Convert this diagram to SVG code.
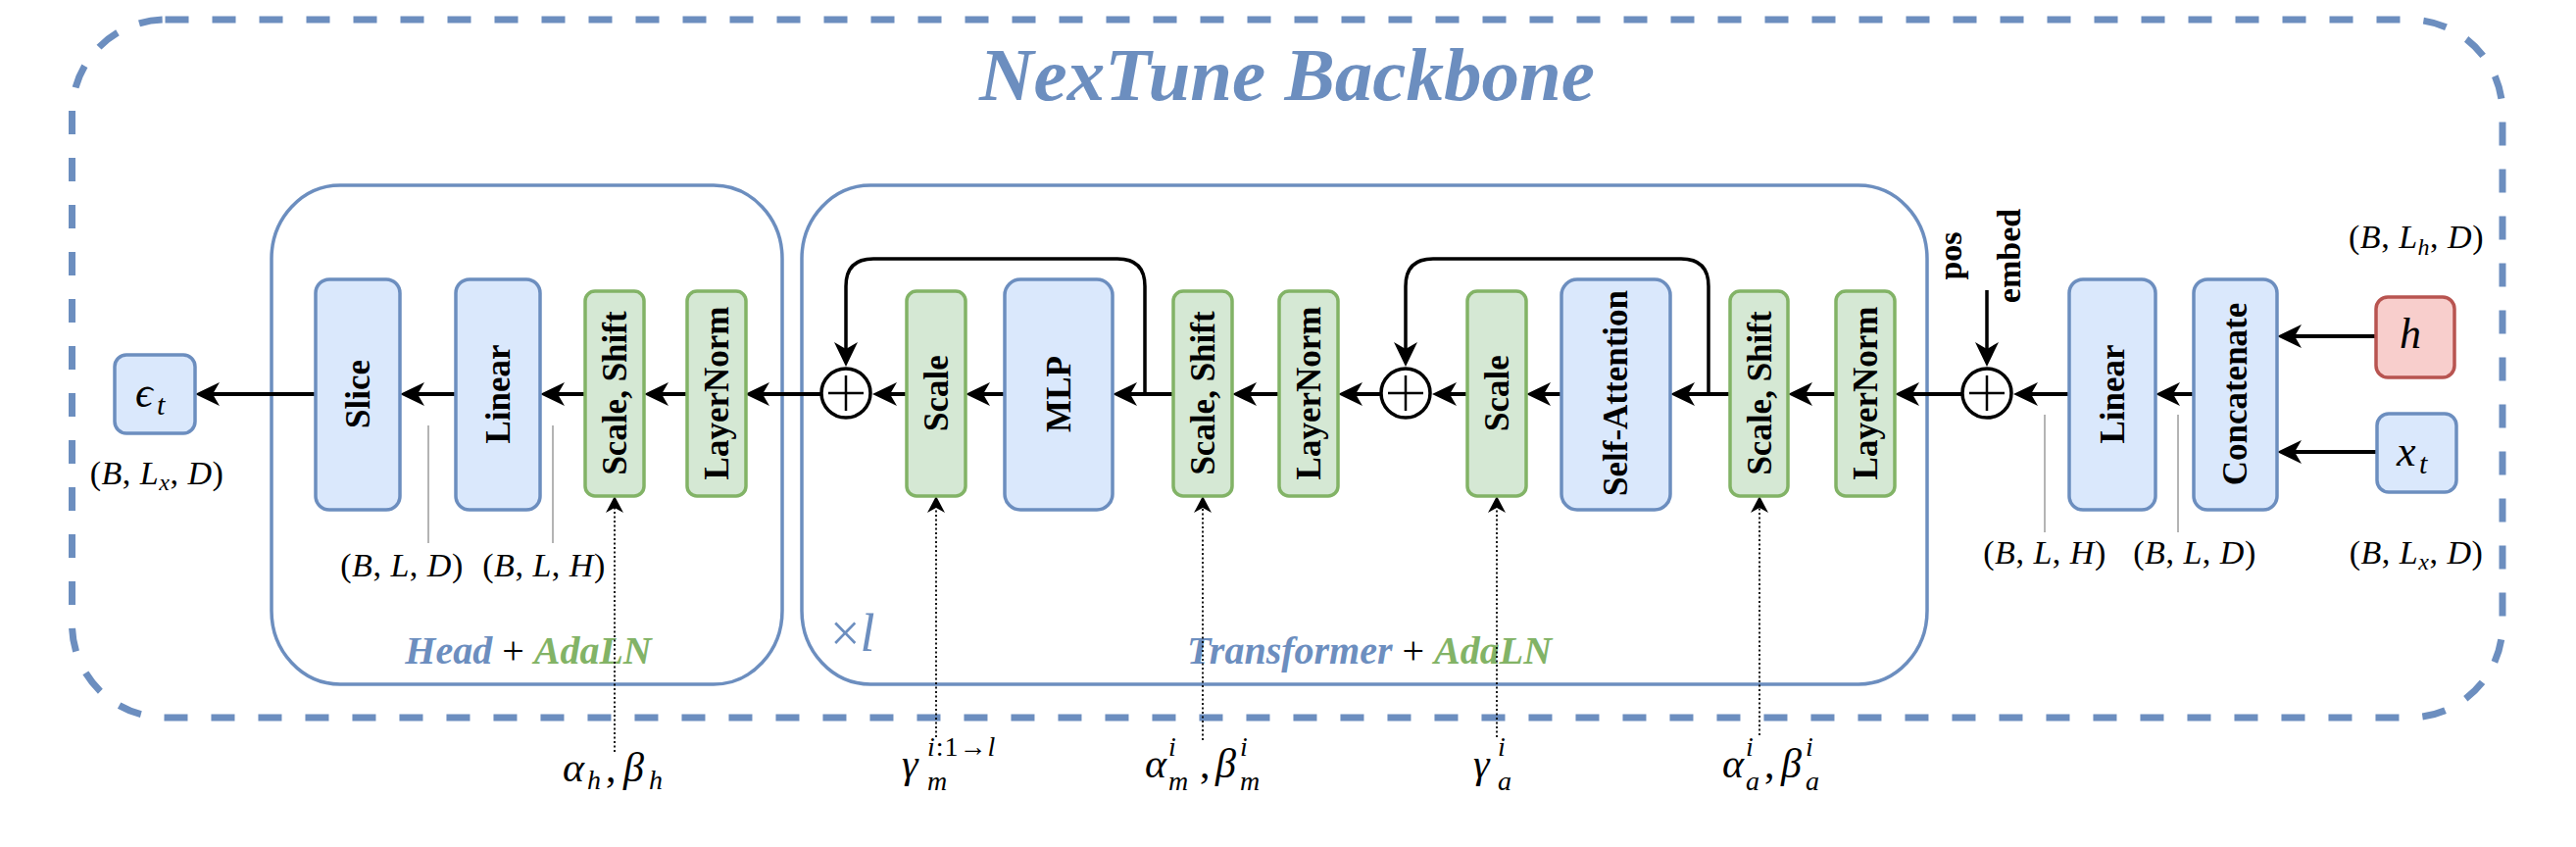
<svg xmlns="http://www.w3.org/2000/svg" width="2628" height="864" viewBox="0 0 2628 864">
<defs>
<style>
.bb{fill:#dae8fc;stroke:#6c8ebf;stroke-width:3.5}
.gb{fill:#d5e8d4;stroke:#82b366;stroke-width:3.5}
.rb{fill:#f8cecc;stroke:#b85450;stroke-width:3.5}
.cont{fill:none;stroke:#6c8ebf;stroke-width:3.5}
.lbl{font-family:"Liberation Serif","Times New Roman",serif;font-weight:bold;font-size:35px;fill:#000;text-anchor:middle;dominant-baseline:central}
.m{font-family:"Liberation Serif","DejaVu Serif",serif;font-style:italic;fill:#000}
.dim{font-size:34px;text-anchor:middle;letter-spacing:0.5px}
.up{font-style:normal}
.ss{font-size:28px}
.ar{fill:none;stroke:#000;stroke-width:4;marker-end:url(#ah)}
.lp{fill:none;stroke:#000;stroke-width:3.5;marker-end:url(#ah)}
.dt{fill:none;stroke:#000;stroke-width:1.8;stroke-dasharray:2 2.5;marker-end:url(#ahs)}
.ld{stroke:#8c8c8c;stroke-width:1.3}
.circ{fill:#fff;stroke:#000;stroke-width:3.5}
.plus{stroke:#000;stroke-width:2.5}
.ttl{font-family:"Liberation Serif","Times New Roman",serif;font-weight:bold;font-style:italic}
</style>
<marker id="ah" markerUnits="userSpaceOnUse" markerWidth="30" markerHeight="30" viewBox="0 -15 30 30" refX="7" refY="0" orient="auto">
<path d="M25,0 L0,-12 L7,0 L0,12 Z" fill="#000"/>
</marker>
<marker id="ahs" markerUnits="userSpaceOnUse" markerWidth="20" markerHeight="20" viewBox="0 -10 20 20" refX="5" refY="0" orient="auto">
<path d="M17,0 L0,-9 L5,0 L0,9 Z" fill="#000"/>
</marker>
</defs>
<rect width="2628" height="864" fill="#fff"/>

<g id="backbone">
<rect x="73.5" y="20" width="2479.5" height="712" rx="95" ry="95" fill="none" stroke="#6c8ebf" stroke-width="7" stroke-dasharray="24 24"/>
<text class="ttl" x="1313" y="102" font-size="77" fill="#6c8ebf" text-anchor="middle">NexTune Backbone</text>
</g>

<g id="head">
<rect class="cont" x="277" y="189" width="521" height="509" rx="70" ry="75"/>
<text class="ttl" x="539" y="677" font-size="40" text-anchor="middle"><tspan fill="#6c8ebf">Head</tspan><tspan fill="#000" font-style="normal" font-weight="normal"> + </tspan><tspan fill="#82b366">AdaLN</tspan></text>
</g>

<g id="transformer">
<rect class="cont" x="818" y="189" width="1148" height="509" rx="70" ry="75"/>
<text class="ttl" x="1397" y="677" font-size="40" text-anchor="middle"><tspan fill="#6c8ebf">Transformer</tspan><tspan fill="#000" font-style="normal" font-weight="normal"> + </tspan><tspan fill="#82b366">AdaLN</tspan></text>
<text x="847" y="664" font-family="Liberation Serif, serif" font-size="54" fill="#6c8ebf">×<tspan font-style="italic">l</tspan></text>
</g>

<g id="connectors">
<path class="ar" d="M2238,402 H2217"/>
<path class="ar" d="M2111,402 H2072"/>
<path class="ar" d="M2003,402 H1951"/>
<path class="ar" d="M1873,402 H1842"/>
<path class="ar" d="M1765,402 H1722"/>
<path class="ar" d="M1593,402 H1575"/>
<path class="ar" d="M1497,402 H1479"/>
<path class="ar" d="M1410,402 H1383"/>
<path class="ar" d="M1305,402 H1275"/>
<path class="ar" d="M1197,402 H1153"/>
<path class="ar" d="M1025,402 H1003"/>
<path class="ar" d="M925,402 H908"/>
<path class="ar" d="M839,402 H778"/>
<path class="ar" d="M701,402 H675"/>
<path class="ar" d="M597,402 H569"/>
<path class="ar" d="M465,402 H426"/>
<path class="ar" d="M322,402 H217"/>
<path class="ar" d="M2424,343 H2341"/>
<path class="ar" d="M2425,461 H2341"/>
<path class="lp" d="M1168,402 V292 Q1168,264 1140,264 H891 Q863,264 863,292 V356"/>
<path class="lp" d="M1743,402 V292 Q1743,264 1715,264 H1462 Q1434,264 1434,292 V356"/>
<path class="lp" d="M2027,296 V356"/>
<path class="dt" d="M627,767 V518"/>
<path class="dt" d="M955,752 V518"/>
<path class="dt" d="M1227,755 V518"/>
<path class="dt" d="M1527,752 V518"/>
<path class="dt" d="M1795,750 V518"/>
<line class="ld" x1="437" y1="434" x2="437" y2="554"/>
<line class="ld" x1="564" y1="434" x2="564" y2="554"/>
<line class="ld" x1="2086" y1="423" x2="2086" y2="543"/>
<line class="ld" x1="2222" y1="423" x2="2222" y2="543"/>
</g>

<g id="eps">
<rect class="bb" x="117" y="362" width="82" height="80" rx="12"/>
<text class="m"><tspan x="138" y="415" font-size="44">ϵ</tspan><tspan x="160" y="423" font-size="30">t</tspan></text>
</g>
<g id="slice"><rect class="bb" x="322" y="285" width="86" height="235" rx="14"/><text class="lbl" transform="translate(365,402) rotate(-90)">Slice</text></g>
<g id="linear-head"><rect class="bb" x="465" y="285" width="86" height="235" rx="14"/><text class="lbl" transform="translate(508,402) rotate(-90)">Linear</text></g>
<g id="scaleshift-head"><rect class="gb" x="597" y="297" width="60" height="209" rx="10"/><text class="lbl" transform="translate(627,401) rotate(-90)">Scale, Shift</text></g>
<g id="layernorm-head"><rect class="gb" x="701" y="297" width="60" height="209" rx="10"/><text class="lbl" transform="translate(731,401) rotate(-90)">LayerNorm</text></g>

<g id="add-mlp"><circle class="circ" cx="863" cy="401" r="25"/><path class="plus" d="M845,401 H881 M863,383 V419"/></g>
<g id="scale-m"><rect class="gb" x="925" y="297" width="60" height="209" rx="10"/><text class="lbl" transform="translate(955,401) rotate(-90)">Scale</text></g>
<g id="mlp"><rect class="bb" x="1025" y="285" width="110" height="235" rx="16"/><text class="lbl" transform="translate(1080,402) rotate(-90)">MLP</text></g>
<g id="scaleshift-m"><rect class="gb" x="1197" y="297" width="60" height="209" rx="10"/><text class="lbl" transform="translate(1227,401) rotate(-90)">Scale, Shift</text></g>
<g id="layernorm-m"><rect class="gb" x="1305" y="297" width="60" height="209" rx="10"/><text class="lbl" transform="translate(1335,401) rotate(-90)">LayerNorm</text></g>
<g id="add-attn"><circle class="circ" cx="1434" cy="401" r="25"/><path class="plus" d="M1416,401 H1452 M1434,383 V419"/></g>
<g id="scale-a"><rect class="gb" x="1497" y="297" width="60" height="209" rx="10"/><text class="lbl" transform="translate(1527,401) rotate(-90)">Scale</text></g>
<g id="self-attention"><rect class="bb" x="1593" y="285" width="111" height="235" rx="16"/><text class="lbl" transform="translate(1648,401) rotate(-90)">Self-Attention</text></g>
<g id="scaleshift-a"><rect class="gb" x="1765" y="297" width="59" height="209" rx="10"/><text class="lbl" transform="translate(1795,401) rotate(-90)">Scale, Shift</text></g>
<g id="layernorm-a"><rect class="gb" x="1873" y="297" width="60" height="209" rx="10"/><text class="lbl" transform="translate(1903,401) rotate(-90)">LayerNorm</text></g>

<g id="add-pos">
<circle class="circ" cx="2027" cy="401" r="25"/><path class="plus" d="M2009,401 H2045 M2027,383 V419"/>
<g transform="translate(2030,261) rotate(-90)">
<text class="lbl" style="dominant-baseline:auto;font-size:34px" x="0" y="-29">pos</text>
<text class="lbl" style="dominant-baseline:auto;font-size:34px" x="0" y="31">embed</text>
</g>
</g>
<g id="linear-embed"><rect class="bb" x="2111" y="285" width="88" height="235" rx="14"/><text class="lbl" transform="translate(2155,402) rotate(-90)">Linear</text></g>
<g id="concatenate"><rect class="bb" x="2238" y="285" width="85" height="235" rx="14"/><text class="lbl" transform="translate(2280,402) rotate(-90)">Concatenate</text></g>
<g id="h"><rect class="rb" x="2424" y="303" width="80" height="82" rx="12"/><text class="m" x="2448" y="355" font-size="44">h</text></g>
<g id="xt"><rect class="bb" x="2425" y="422" width="81" height="80" rx="12"/><text class="m"><tspan x="2445" y="475" font-size="44">x</tspan><tspan x="2468" y="483" font-size="30">t</tspan></text></g>

<g id="dims">
<text class="m dim" x="160" y="494"><tspan class="up">(</tspan>B<tspan class="up">,</tspan> L<tspan font-size="24" dy="6">x</tspan><tspan class="up" dy="-6">,</tspan> D<tspan class="up">)</tspan></text>
<text class="m dim" x="410" y="588"><tspan class="up">(</tspan>B<tspan class="up">,</tspan> L<tspan class="up">,</tspan> D<tspan class="up">)</tspan></text>
<text class="m dim" x="555" y="588"><tspan class="up">(</tspan>B<tspan class="up">,</tspan> L<tspan class="up">,</tspan> H<tspan class="up">)</tspan></text>
<text class="m dim" x="2086" y="575"><tspan class="up">(</tspan>B<tspan class="up">,</tspan> L<tspan class="up">,</tspan> H<tspan class="up">)</tspan></text>
<text class="m dim" x="2239" y="575"><tspan class="up">(</tspan>B<tspan class="up">,</tspan> L<tspan class="up">,</tspan> D<tspan class="up">)</tspan></text>
<text class="m dim" x="2465" y="575"><tspan class="up">(</tspan>B<tspan class="up">,</tspan> L<tspan font-size="24" dy="6">x</tspan><tspan class="up" dy="-6">,</tspan> D<tspan class="up">)</tspan></text>
<text class="m dim" x="2465" y="253"><tspan class="up">(</tspan>B<tspan class="up">,</tspan> L<tspan font-size="24" dy="7">h</tspan><tspan class="up" dy="-7">,</tspan> D<tspan class="up">)</tspan></text>
</g>

<g id="params">
<text class="m" font-size="42"><tspan x="574" y="797">α</tspan><tspan x="599" y="805" class="ss">h</tspan><tspan class="up" x="618" y="797">,</tspan><tspan x="636" y="797">β</tspan><tspan x="662" y="805" class="ss">h</tspan></text>
<text class="m" font-size="42"><tspan x="920" y="793">γ</tspan><tspan x="946" y="806" class="ss">m</tspan></text>
<text class="m ss" x="946" y="771" letter-spacing="1">i<tspan class="up">:1→</tspan>l</text>
<text class="m" font-size="42"><tspan x="1168" y="793">α</tspan><tspan x="1192" y="806" class="ss">m</tspan><tspan class="up" x="1224" y="793">,</tspan><tspan x="1240" y="793">β</tspan><tspan x="1265" y="806" class="ss">m</tspan></text>
<text class="m ss"><tspan x="1192" y="771">i</tspan><tspan x="1265" y="771">i</tspan></text>
<text class="m" font-size="42"><tspan x="1503" y="793">γ</tspan><tspan x="1528" y="806" class="ss">a</tspan></text>
<text class="m ss" x="1528" y="771">i</text>
<text class="m" font-size="42"><tspan x="1757" y="793">α</tspan><tspan x="1781" y="806" class="ss">a</tspan><tspan class="up" x="1800" y="793">,</tspan><tspan x="1817" y="793">β</tspan><tspan x="1842" y="806" class="ss">a</tspan></text>
<text class="m ss"><tspan x="1781" y="771">i</tspan><tspan x="1842" y="771">i</tspan></text>
</g>
</svg>
